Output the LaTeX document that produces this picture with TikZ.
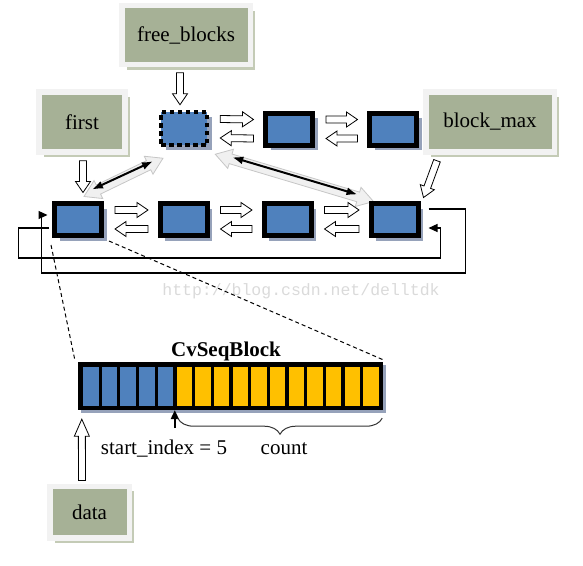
\documentclass[tikz,border=0pt]{standalone}
\usepackage{fontspec}
\setmainfont{Liberation Serif}
\newfontfamily\wmfont{Liberation Mono}
\usetikzlibrary{arrows.meta,calc,shadows,decorations.pathreplacing}
\definecolor{boxgreen}{RGB}{166,177,150}
\definecolor{boxrim}{RGB}{242,242,242}
\definecolor{boxshade}{RGB}{196,203,182}
\definecolor{cellblue}{RGB}{79,129,189}
\definecolor{cellgold}{RGB}{255,192,0}
\definecolor{blkshade}{RGB}{150,162,186}
\definecolor{wmgray}{RGB}{218,218,218}
\tikzset{
    ashaft/.store in=\ashaft, ahead/.store in=\ahead, alen/.store in=\alen,
    ashaft=3.5pt, ahead=7.5pt, alen=11pt
}
\tikzset{
    lbl/.style={rectangle, fill=boxgreen, draw=boxrim, line width=5.5pt,
    	inner sep=0pt, font=\fontsize{21}{25}\selectfont,
    	drop shadow={shadow xshift=5pt, shadow yshift=-5pt, fill=boxshade, opacity=1}},
    txt/.style={inner sep=0pt, font=\fontsize{21}{25}\selectfont},
    blk/.style={rectangle, fill=cellblue, draw=black, line width=5pt, inner sep=0pt,
    	minimum width=47pt, minimum height=32pt,
    	drop shadow={shadow xshift=5pt, shadow yshift=-5pt, fill=blkshade, opacity=1}},
    freeblk/.style={blk, line width=4.5pt, dash pattern=on 4.5pt off 3.5pt,
    	minimum width=46pt, minimum height=33pt}
}
\tikzset{
    fatarr/.style={draw=black, fill=white, line width=0.8pt,
    	to path={let \p1=(\tikztostart), \p2=(\tikztotarget) in
    	($(\p1)!\ashaft!90:(\p2)$)
    	-- ($(\p2)!\alen!(\p1)!\ashaft!-90:(\p1)$)
    	-- ($(\p2)!\alen!(\p1)!\ahead!-90:(\p1)$)
    	-- (\p2)
    	-- ($(\p2)!\alen!(\p1)!\ahead!90:(\p1)$)
    	-- ($(\p2)!\alen!(\p1)!\ashaft!90:(\p1)$)
    	-- ($(\p1)!\ashaft!-90:(\p2)$) -- cycle}},
    fatdbl/.style={draw=gray!45, fill=gray!12, line width=0.8pt,
    	ashaft=5pt, ahead=10pt, alen=16pt,
    	to path={let \p1=(\tikztostart), \p2=(\tikztotarget) in
    	(\p1)
    	-- ($(\p1)!\alen!(\p2)!\ahead!90:(\p2)$)
    	-- ($(\p1)!\alen!(\p2)!\ashaft!90:(\p2)$)
    	-- ($(\p2)!\alen!(\p1)!\ashaft!-90:(\p1)$)
    	-- ($(\p2)!\alen!(\p1)!\ahead!-90:(\p1)$)
    	-- (\p2)
    	-- ($(\p2)!\alen!(\p1)!\ahead!90:(\p1)$)
    	-- ($(\p2)!\alen!(\p1)!\ashaft!90:(\p1)$)
    	-- ($(\p1)!\alen!(\p2)!\ashaft!-90:(\p2)$)
    	-- ($(\p1)!\alen!(\p2)!\ahead!-90:(\p2)$) -- cycle}},
    blkarr/.style={line width=2pt,
    	{Latex[length=11pt,width=8pt]}-{Latex[length=11pt,width=8pt]}},
    fb/.style={line width=1.2pt, -{Triangle[length=9pt,width=8pt]}}
}
\pgfdeclarelayer{background}
\pgfsetlayers{background,main}

\begin{document}
\begin{tikzpicture}[x=1pt, y=-1pt]
  \useasboundingbox (0,0) rectangle (583,565);

  \node (fblk) [lbl, minimum width=128.5pt, minimum height=59pt] at (186,35) {free\_blocks};
  \node (first) [lbl, minimum width=86pt, minimum height=60pt] at (82,122) {first};
  \node (bmax) [lbl, minimum width=128.5pt, minimum height=60pt] at (490,122) {block\_max};
  \node (data) [lbl, minimum width=79.5pt, minimum height=51.5pt] at (89.5,512) {data};

  \node (f0) [freeblk] at (184,128.5) {};
  \node (f1) [blk] at (289,129) {};
  \node (f2) [blk] at (393,129) {};
  \node (b1) [blk] at (78,219.5) {};
  \node (b2) [blk] at (183.5,219.5) {};
  \node (b3) [blk] at (287.5,219.5) {};
  \node (b4) [blk] at (394.5,219.5) {};

  \foreach \a/\b in {f0/f1, f1/f2, b1/b2, b2/b3, b3/b4} {
    \draw[fatarr] ([xshift=11pt,yshift=9.5pt]\a.east) to ([xshift=-9.5pt,yshift=9.5pt]\b.west);
    \draw[fatarr] ([xshift=-9.5pt,yshift=-9.5pt]\b.west) to ([xshift=11pt,yshift=-9.5pt]\a.east);
  }

  \draw[fatarr] ([xshift=-6pt,yshift=-5.5pt]fblk.south) to ([xshift=-4pt,yshift=5pt]f0.north);
  \draw[fatarr] ([xshift=1pt,yshift=-6pt]first.south) to ([xshift=5pt,yshift=8.5pt]b1.north);
  \draw[fatarr] ([xshift=-53pt,yshift=-6pt]bmax.south) to ([xshift=3pt,yshift=3.5pt]b4.north east);

  \begin{pgfonlayer}{background}
    \draw[fatdbl] ([xshift=6pt,yshift=4.5pt]b1.north) to ([xshift=-21pt,yshift=-11pt]f0.south);
    \draw[fatdbl] ([xshift=6pt,yshift=-7pt]f0.south east) to ([xshift=5pt,yshift=-0.5pt]b4.north west);
  \end{pgfonlayer}
  \draw[blkarr] ([xshift=14pt,yshift=11.5pt]b1.north) -- ([xshift=-31pt,yshift=-14pt]f0.south);
  \draw[blkarr] ([xshift=23pt,yshift=-10pt]f0.south east) -- ([xshift=-11pt,yshift=6.5pt]b4.north west);

  \draw[fb] ([xshift=-3pt,yshift=-8.5pt]b1.west) -- ++(-30.5,0) |- ++(422,30)
    |- ([xshift=8pt,yshift=-8.5pt]b4.east);
  \draw[fb] ([xshift=8pt,yshift=10.5pt]b4.east) -- ++(37,0) |- ++(-424,64)
    |- ([xshift=-4.5pt,yshift=4.5pt]b1.west);

  \node (wm) [font=\wmfont\fontsize{16.5}{18}\selectfont, text=wmgray] at (301,291)
    {http://blog.csdn.net/delltdk};

  \node (seq) [fill=black, minimum width=305pt, minimum height=48pt, inner sep=0pt,
    drop shadow={shadow xshift=3pt, shadow yshift=-3pt, fill=blkshade, opacity=1}]
    at (230.5,386) {};
  \foreach \i in {0,...,4}
    \fill[cellblue] ($(seq.north west)+(5.3+18.68*\i,5)$) rectangle ++(15.5,39);
  \foreach \i in {5,...,15}
    \fill[cellgold] ($(seq.north west)+(5.3+18.68*\i,5)$) rectangle ++(15.5,39);
  \node (title) [txt, font=\bfseries\fontsize{21}{25}\selectfont] at (226,351) {CvSeqBlock};

  \draw[dashed, line width=1pt, dash pattern=on 4pt off 3pt]
    ([xshift=-1pt,yshift=-7pt]b1.south west) -- ([xshift=-3pt,yshift=2pt]seq.north west);
  \draw[dashed, line width=1pt, dash pattern=on 4pt off 3pt]
    ([xshift=5pt,yshift=-3pt]b1.south east) -- ([yshift=2pt]seq.north east);

  \node (sidx) [txt] at (164,449) {start\_index = 5};
  \node (cnt) [txt] at (284,449) {count};
  \coordinate (si) at ($(seq.south west)+(97,0)$);
  \draw[fb, line width=1.5pt] ([yshift=-18pt]si) -- (si);
  \draw[decorate, decoration={brace, mirror, amplitude=16pt}, line width=1pt, black!80]
    ([xshift=100pt,yshift=-8pt]seq.south west) -- ([xshift=-1pt,yshift=-8pt]seq.south east);

  \draw[fatarr, alen=17pt] ([xshift=-7.5pt,yshift=3pt]data.north) to ([xshift=4pt,yshift=-9pt]seq.south west);
\end{tikzpicture}
\end{document}
